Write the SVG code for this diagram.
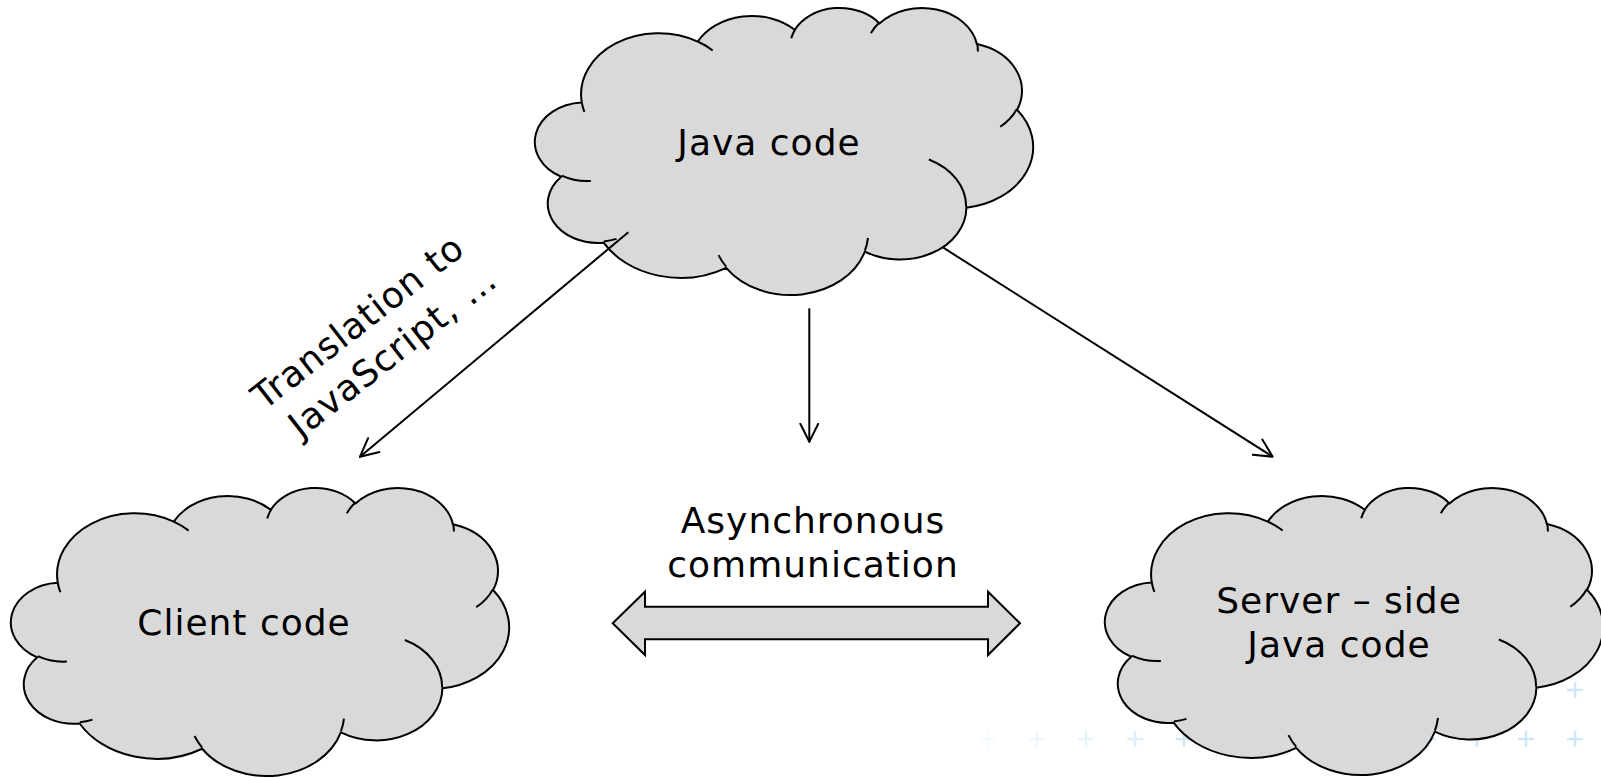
<svg xmlns="http://www.w3.org/2000/svg" xmlns:xlink="http://www.w3.org/1999/xlink" width="1601" height="778" viewBox="0 0 1601 778">
<style>
.cloud{fill:#d9d9d9;stroke:#000;stroke-width:2;vector-effect:non-scaling-stroke;stroke-linejoin:round}
.inner{fill:none;stroke:#000;stroke-width:2;vector-effect:non-scaling-stroke}
.lbl{font-family:"DejaVu Sans","Verdana",sans-serif;font-size:36px;letter-spacing:1px;fill:#000;text-anchor:middle}
.conn{fill:none;stroke:#000;stroke-width:2}
.plus{stroke:#cfe7f6;stroke-width:2.5;fill:none}
</style>
<defs>
<path id="cloudOuter" class="cloud" d="M3900,14370 A6753,9190 0 0 1 14003,5201 A5333,7267 0 0 1 22454,3430 A4365,5945 0 0 1 29831,2479 A4857,6595 0 0 1 38315,5575 A5333,7273 0 0 1 41814,15459 A6775,9220 0 0 1 37401,30203 A5785,7867 0 0 1 28554,36815 A6752,9215 0 0 1 16479,39265 A7720,10543 0 0 1 5805,35472 A4360,5918 0 0 1 2112,25552 A4345,5945 0 0 1 3900,14370 Z"/>
<path id="cloudInner" class="inner" d="M4693,26177 A4345,5945 0 0 1 2160,25380 M6928,34899 A4360,5918 0 0 1 5821,35280 M16478,39090 A6752,9215 0 0 1 15810,37350 M28827,34751 A6752,9215 0 0 1 28560,36660 M34129,22954 A5785,7867 0 0 1 37379,30089 M41798,15354 A5333,7273 0 0 1 40350,18030 M38324,5426 A4857,6595 0 0 1 38400,6690 M29078,3952 A4857,6595 0 0 1 29820,2340 M22141,4720 A4365,5945 0 0 1 22500,3329 M14000,5192 A6753,9190 0 0 1 15303,6544 M4127,15789 A6753,9190 0 0 1 3900,14370"/>
<marker id="arrow" markerUnits="userSpaceOnUse" viewBox="0 0 20 20" refX="19" refY="10" markerWidth="20" markerHeight="20" orient="auto">
<path d="M1,1 L19,10 L1,19" fill="none" stroke="#000" stroke-width="2" stroke-linecap="round" stroke-linejoin="miter"/>
</marker>
</defs>
<rect width="1601" height="778" fill="#fff"/>
<g id="background-pluses" class="plus">
<path d="M980,739h16M988,731v16" opacity="0.2"/>
<path d="M1029,739h16M1037,731v16" opacity="0.35"/>
<path d="M1078,739h16M1086,731v16" opacity="0.5"/>
<path d="M1127,739h16M1135,731v16" opacity="0.7"/>
<path d="M1176,739h16M1184,731v16"/>
<path d="M1225,739h16M1233,731v16"/>
<path d="M1274,739h16M1282,731v16"/>
<path d="M1322,739h16M1330,731v16"/>
<path d="M1371,739h16M1379,731v16"/>
<path d="M1420,739h16M1428,731v16"/>
<path d="M1469,739h16M1477,731v16"/>
<path d="M1518,739h16M1526,731v16"/>
<path d="M1567,739h16M1575,731v16"/>
<path d="M1567,690h16M1575,682v16"/>
</g>
<g id="node-java">
<use xlink:href="#cloudOuter" transform="translate(537,7) scale(0.011481,0.0066435)"/>
<use xlink:href="#cloudInner" transform="translate(537,7) scale(0.011481,0.0066435)"/>
<text class="lbl" x="769" y="155">Java code</text>
</g>
<g id="node-client">
<use xlink:href="#cloudOuter" transform="translate(13,487) scale(0.011481,0.0066667)"/>
<use xlink:href="#cloudInner" transform="translate(13,487) scale(0.011481,0.0066667)"/>
<text class="lbl" x="244" y="635">Client code</text>
</g>
<g id="node-server">
<use xlink:href="#cloudOuter" transform="translate(1107,487) scale(0.011481,0.0066435)"/>
<use xlink:href="#cloudInner" transform="translate(1107,487) scale(0.011481,0.0066435)"/>
<text class="lbl" x="1339" y="613">Server – side</text>
<text class="lbl" x="1339" y="657">Java code</text>
</g>
<g id="connectors">
<line class="conn" x1="628.3" y1="232.3" x2="360" y2="456.7" marker-end="url(#arrow)"/>
<line class="conn" x1="809.3" y1="308.3" x2="809.3" y2="441.7" marker-end="url(#arrow)"/>
<line class="conn" x1="943.3" y1="247.7" x2="1272.7" y2="456.7" marker-end="url(#arrow)"/>
<polygon points="612.7,623.3 645,591.7 645,606.7 988,606.7 988,591.7 1020,623.3 988,655 988,639.3 645,639.3 645,655" fill="#d9d9d9" stroke="#000" stroke-width="2" stroke-linejoin="miter"/>
<text class="lbl" transform="translate(379,349) rotate(-38)"><tspan x="0" y="-22">Translation to</tspan><tspan x="9" y="23">JavaScript, …</tspan></text>
<text class="lbl" x="813" y="533">Asynchronous</text>
<text class="lbl" x="813" y="577">communication</text>
</g>
</svg>
